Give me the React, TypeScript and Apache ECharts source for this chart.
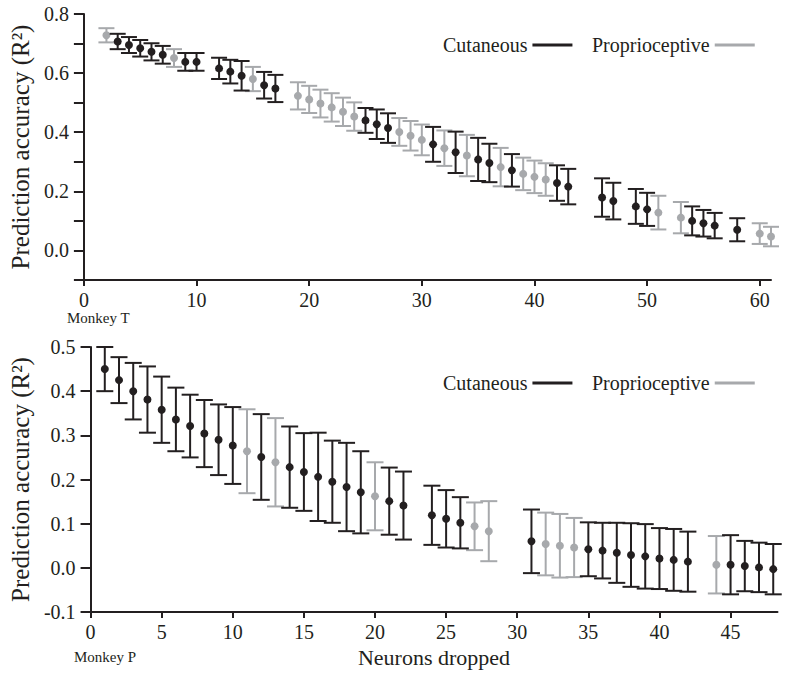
import React, { useEffect, useRef } from 'react';
import * as echarts from 'echarts';

// ---------- Monkey T (top panel) ----------
const monkeyTNeurons = [2, 3, 4, 5, 6, 7, 8, 9, 10, 12, 13, 14, 15, 16, 17, 19, 20, 21, 22, 23, 24, 25, 26, 27, 28, 29, 30, 31, 32, 33, 34, 35, 36, 37, 38, 39, 40, 41, 42, 43, 46, 47, 49, 50, 51, 53, 54, 55, 56, 58, 60, 61];
const monkeyTMean = [0.728, 0.707, 0.695, 0.684, 0.672, 0.662, 0.651, 0.638, 0.638, 0.616, 0.605, 0.591, 0.58, 0.559, 0.548, 0.523, 0.511, 0.497, 0.484, 0.469, 0.453, 0.44, 0.427, 0.414, 0.401, 0.388, 0.374, 0.359, 0.346, 0.332, 0.321, 0.308, 0.296, 0.282, 0.271, 0.259, 0.249, 0.24, 0.228, 0.216, 0.179, 0.167, 0.149, 0.139, 0.128, 0.111, 0.1, 0.092, 0.084, 0.07, 0.057, 0.047];
const monkeyTErr = [0.024, 0.026, 0.027, 0.028, 0.029, 0.03, 0.03, 0.03, 0.03, 0.036, 0.04, 0.05, 0.041, 0.045, 0.046, 0.046, 0.046, 0.047, 0.048, 0.048, 0.048, 0.042, 0.05, 0.05, 0.047, 0.05, 0.052, 0.059, 0.06, 0.07, 0.07, 0.073, 0.065, 0.065, 0.055, 0.055, 0.055, 0.055, 0.06, 0.06, 0.065, 0.062, 0.059, 0.056, 0.057, 0.053, 0.049, 0.045, 0.043, 0.039, 0.035, 0.033];
const monkeyTType = ['P', 'C', 'C', 'C', 'C', 'C', 'P', 'C', 'C', 'C', 'C', 'C', 'P', 'C', 'C', 'P', 'P', 'P', 'P', 'P', 'P', 'C', 'C', 'C', 'P', 'P', 'P', 'C', 'P', 'C', 'P', 'C', 'C', 'P', 'C', 'P', 'P', 'P', 'C', 'C', 'C', 'C', 'C', 'C', 'P', 'P', 'C', 'C', 'C', 'C', 'P', 'P'];

// ---------- Monkey P (bottom panel) ----------
const monkeyPNeurons = [1, 2, 3, 4, 5, 6, 7, 8, 9, 10, 11, 12, 13, 14, 15, 16, 17, 18, 19, 20, 21, 22, 24, 25, 26, 27, 28, 31, 32, 33, 34, 35, 36, 37, 38, 39, 40, 41, 42, 44, 45, 46, 47, 48];
const monkeyPMean = [0.45, 0.425, 0.4, 0.381, 0.358, 0.336, 0.321, 0.304, 0.29, 0.277, 0.264, 0.251, 0.239, 0.228, 0.217, 0.206, 0.195, 0.183, 0.171, 0.162, 0.151, 0.141, 0.119, 0.111, 0.102, 0.094, 0.083, 0.06, 0.054, 0.05, 0.046, 0.042, 0.039, 0.034, 0.029, 0.026, 0.021, 0.018, 0.014, 0.007, 0.007, 0.004, 0.001, -0.003];
const monkeyPErr = [0.05, 0.052, 0.064, 0.075, 0.075, 0.072, 0.071, 0.076, 0.08, 0.087, 0.095, 0.097, 0.1, 0.092, 0.088, 0.1, 0.093, 0.1, 0.093, 0.077, 0.076, 0.077, 0.067, 0.065, 0.058, 0.054, 0.068, 0.072, 0.071, 0.072, 0.067, 0.061, 0.063, 0.068, 0.072, 0.073, 0.069, 0.07, 0.068, 0.065, 0.067, 0.057, 0.056, 0.057];
const monkeyPType = ['C', 'C', 'C', 'C', 'C', 'C', 'C', 'C', 'C', 'C', 'P', 'C', 'P', 'C', 'C', 'C', 'C', 'C', 'C', 'P', 'C', 'C', 'C', 'C', 'C', 'P', 'P', 'C', 'P', 'P', 'P', 'C', 'C', 'C', 'C', 'C', 'C', 'C', 'C', 'P', 'C', 'C', 'C', 'C'];

// ---------- tick labels ----------
const topXTicks = [0, 10, 20, 30, 40, 50, 60];
const bottomXTicks = [0, 5, 10, 15, 20, 25, 30, 35, 40, 45];
const seriesNames = ['Cutaneous', 'Proprioceptive'];

const BLACK = '#231f20';
const GRAY = '#a7a9ac';
const FONT = "'Liberation Serif', 'Times New Roman', serif";

function pick(neurons: number[], mean: number[], err: number[], type: string[], t: string) {
  const out: number[][] = [];
  neurons.forEach((n, i) => {
    if (type[i] === t) out.push([n, mean[i], err[i]]);
  });
  return out;
}

function errSeries(name: string, idx: number, data: number[][], color: string, capHalf: number) {
  return {
    type: 'custom',
    name,
    xAxisIndex: idx,
    yAxisIndex: idx,
    itemStyle: { color },
    encode: { x: 0, y: 1 },
    data,
    renderItem: (params: any, api: any) => {
      const x = api.value(0);
      const m = api.value(1);
      const e = api.value(2);
      const t = api.coord([x, m + e]);
      const b = api.coord([x, m - e]);
      const c = api.coord([x, m]);
      const st = { stroke: color, lineWidth: 2 };
      return {
        type: 'group',
        children: [
          { type: 'line', shape: { x1: t[0], y1: t[1], x2: b[0], y2: b[1] }, style: st },
          { type: 'line', shape: { x1: t[0] - capHalf, y1: t[1], x2: t[0] + capHalf, y2: t[1] }, style: st },
          { type: 'line', shape: { x1: b[0] - capHalf, y1: b[1], x2: b[0] + capHalf, y2: b[1] }, style: st },
          { type: 'circle', shape: { cx: c[0], cy: c[1], r: 4 }, style: { fill: color } },
        ],
      };
    },
  };
}

const axisCommon = {
  axisLine: { show: true, onZero: false, lineStyle: { color: BLACK, width: 2 } },
  splitLine: { show: false },
};

function legendItem(name: string, color: string, left: number, top: number) {
  return {
    left,
    top,
    align: 'right',
    itemWidth: 40,
    itemHeight: 3,
    icon: 'rect',
    padding: 0,
    selectedMode: false,
    textStyle: { fontFamily: FONT, fontSize: 20, color: BLACK },
    data: [{ name, itemStyle: { color } }],
  };
}

export default function App() {
  const ref = useRef<HTMLDivElement>(null);
  useEffect(() => {
    document.body.style.margin = '0';
    const chart = echarts.init(ref.current!, undefined, { renderer: 'svg' });
    const yTitle = {
      name: 'Prediction accuracy (R²)', nameLocation: 'middle', nameGap: 50, nameRotate: 90,
      nameTextStyle: { fontFamily: FONT, fontSize: 25, color: BLACK },
    };
    chart.setOption({
      animation: false,
      backgroundColor: '#fff',
      legend: [
        legendItem(seriesNames[0], BLACK, 443, 35),
        legendItem(seriesNames[1], GRAY, 592, 35),
        legendItem(seriesNames[0], BLACK, 443, 373),
        legendItem(seriesNames[1], GRAY, 592, 373),
      ],
      grid: [
        { left: 80, top: 14, width: 691, height: 266 },
        { left: 81, top: 347, width: 696.5, height: 265 },
      ],
      xAxis: [
        {
          ...axisCommon,
          type: 'value', gridIndex: 0, min: 0, max: 61, interval: 10,
          axisTick: { show: true, length: 6, lineStyle: { color: BLACK, width: 2 }, customValues: topXTicks },
          axisLabel: { fontFamily: FONT, fontSize: 20, color: BLACK, margin: 10, customValues: topXTicks },
        },
        {
          ...axisCommon,
          type: 'value', gridIndex: 1, min: 0, max: 48.3, interval: 5,
          axisTick: { show: true, length: 6, lineStyle: { color: BLACK, width: 2 }, customValues: bottomXTicks },
          axisLabel: { fontFamily: FONT, fontSize: 20, color: BLACK, margin: 10, customValues: bottomXTicks },
          name: 'Neurons dropped', nameLocation: 'middle', nameGap: 34,
          nameTextStyle: { fontFamily: FONT, fontSize: 22, color: BLACK },
        },
      ],
      yAxis: [
        {
          ...axisCommon,
          ...yTitle,
          type: 'value', gridIndex: 0, min: -0.1, max: 0.8, interval: 0.1,
          axisTick: { show: true, length: 10, lineStyle: { color: BLACK, width: 2 } },
          axisLabel: {
            fontFamily: FONT, fontSize: 20, color: BLACK, margin: 15,
            formatter: (v: number) => {
              const k = Math.round(v * 10);
              return k >= 0 && k % 2 === 0 ? (k / 10).toFixed(1) : '';
            },
          },
        },
        {
          ...axisCommon,
          ...yTitle,
          type: 'value', gridIndex: 1, min: -0.1, max: 0.5, interval: 0.1,
          axisTick: { show: true, length: 10, lineStyle: { color: BLACK, width: 2 } },
          axisLabel: {
            fontFamily: FONT, fontSize: 20, color: BLACK, margin: 15,
            formatter: (v: number) => (Math.round(v * 10) / 10).toFixed(1),
          },
        },
      ],
      graphic: [
        { type: 'text', left: 67, top: 310, style: { text: 'Monkey T', fontFamily: FONT, fontSize: 15, fill: BLACK } },
        { type: 'text', left: 74, top: 649, style: { text: 'Monkey P', fontFamily: FONT, fontSize: 15, fill: BLACK } },
      ],
      series: [
        errSeries(seriesNames[1], 0, pick(monkeyTNeurons, monkeyTMean, monkeyTErr, monkeyTType, 'P'), GRAY, 8),
        errSeries(seriesNames[0], 0, pick(monkeyTNeurons, monkeyTMean, monkeyTErr, monkeyTType, 'C'), BLACK, 8),
        errSeries(seriesNames[1], 1, pick(monkeyPNeurons, monkeyPMean, monkeyPErr, monkeyPType, 'P'), GRAY, 8.5),
        errSeries(seriesNames[0], 1, pick(monkeyPNeurons, monkeyPMean, monkeyPErr, monkeyPType, 'C'), BLACK, 8.5),
      ],
    });
    return () => chart.dispose();
  }, []);
  return <div ref={ref} style={{ width: 789, height: 676 }} />;
}
